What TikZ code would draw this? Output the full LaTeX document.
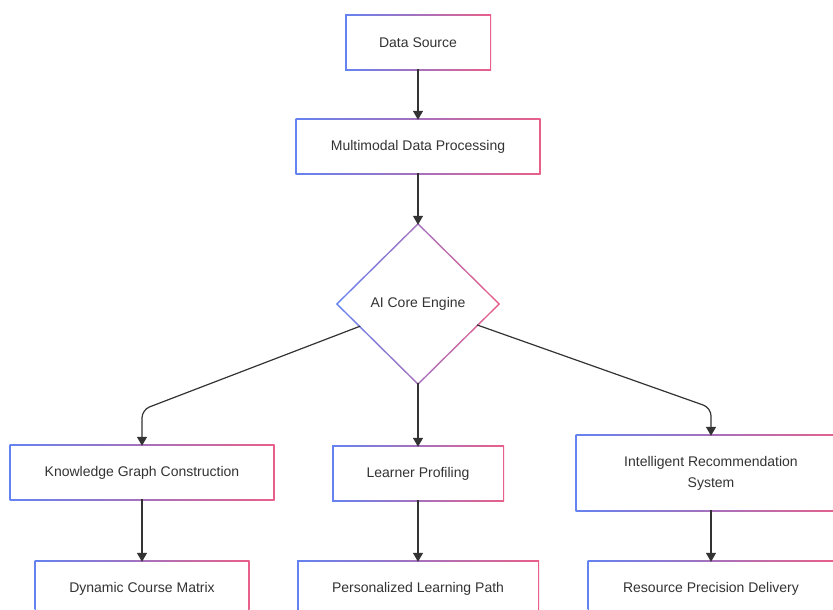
\documentclass[tikz,border=0pt]{standalone}
\usepackage{fontspec}
\setmainfont{Liberation Sans}
\usepackage{tikz}
\usetikzlibrary{shapes.geometric, arrows.meta, backgrounds}
\definecolor{edgeblue}{HTML}{6482F0}
\definecolor{edgepink}{HTML}{E8608A}
\definecolor{textgray}{HTML}{333333}

\begin{document}
\begin{tikzpicture}[
    x=1pt, y=-1pt,
    box/.style={
        rectangle,
        fill=white,
        inner sep=0pt,
        minimum height=53pt,
        align=center,
        text=textgray,
        font=\fontsize{14}{21}\selectfont
    },
    decision/.style={
        diamond,
        fill=white,
        inner sep=0pt,
        minimum width=160pt,
        minimum height=158pt,
        text=textgray,
        font=\fontsize{14}{21}\selectfont
    },
    arrow/.style={
        -{Triangle[length=9pt, width=10pt]},
        line width=1.2pt,
        color=textgray
    }
]

\useasboundingbox (0,0) rectangle (833,610);

% Top of the flow
\node[box, minimum width=143pt] (src) at (418, 42.5) {Data Source};
\node[box, minimum width=242pt] (proc) at (418, 146.5) {Multimodal Data Processing};

% Engine
\node[decision] (core) at (418, 304) {AI Core Engine};

% Middle row
\node[box, minimum width=262pt] (kg) at (142, 472.5) {Knowledge Graph Construction};
\node[box, minimum width=169pt] (lp) at (418, 473.5) {Learner Profiling};
\node[box, minimum width=268pt, minimum height=74pt] (irs) at (711, 473) {
    Intelligent Recommendation\\
    System
};

% Bottom row
\node[box, minimum width=212pt] (dcm) at (142, 588.5) {Dynamic Course Matrix};
\node[box, minimum width=239pt] (plp) at (418, 588.5) {Personalized Learning Path};
\node[box, minimum width=244pt] (rpd) at (711, 588.5) {Resource Precision Delivery};

% Gradient borders
\begin{scope}[on background layer]
    \fill[white] (0,0) rectangle (833,610);
    \foreach \n in {src, proc, kg, lp, irs, dcm, plp, rpd}
        \shade[left color=edgeblue, right color=edgepink]
            ([shift={(-1.3pt,-1.3pt)}]\n.south west) rectangle ([shift={(1.3pt,1.3pt)}]\n.north east);
    \shade[left color=edgeblue, right color=edgepink]
        ([yshift=1.9pt]core.north) -- ([xshift=1.9pt]core.east) --
        ([yshift=-1.9pt]core.south) -- ([xshift=-1.9pt]core.west) -- cycle;
\end{scope}

% Arrows
\draw[arrow] (src) -- (proc);
\draw[arrow] (proc) -- (core);
\draw[arrow, rounded corners=8pt] (core) -- ([yshift=36pt]kg.north) -- (kg.north);
\draw[arrow] (core) -- (lp);
\draw[arrow, rounded corners=8pt] (core) -- ([yshift=28pt]irs.north) -- (irs.north);
\draw[arrow] (kg) -- (dcm);
\draw[arrow] (lp) -- (plp);
\draw[arrow] (irs) -- (rpd);

\end{tikzpicture}
\end{document}
